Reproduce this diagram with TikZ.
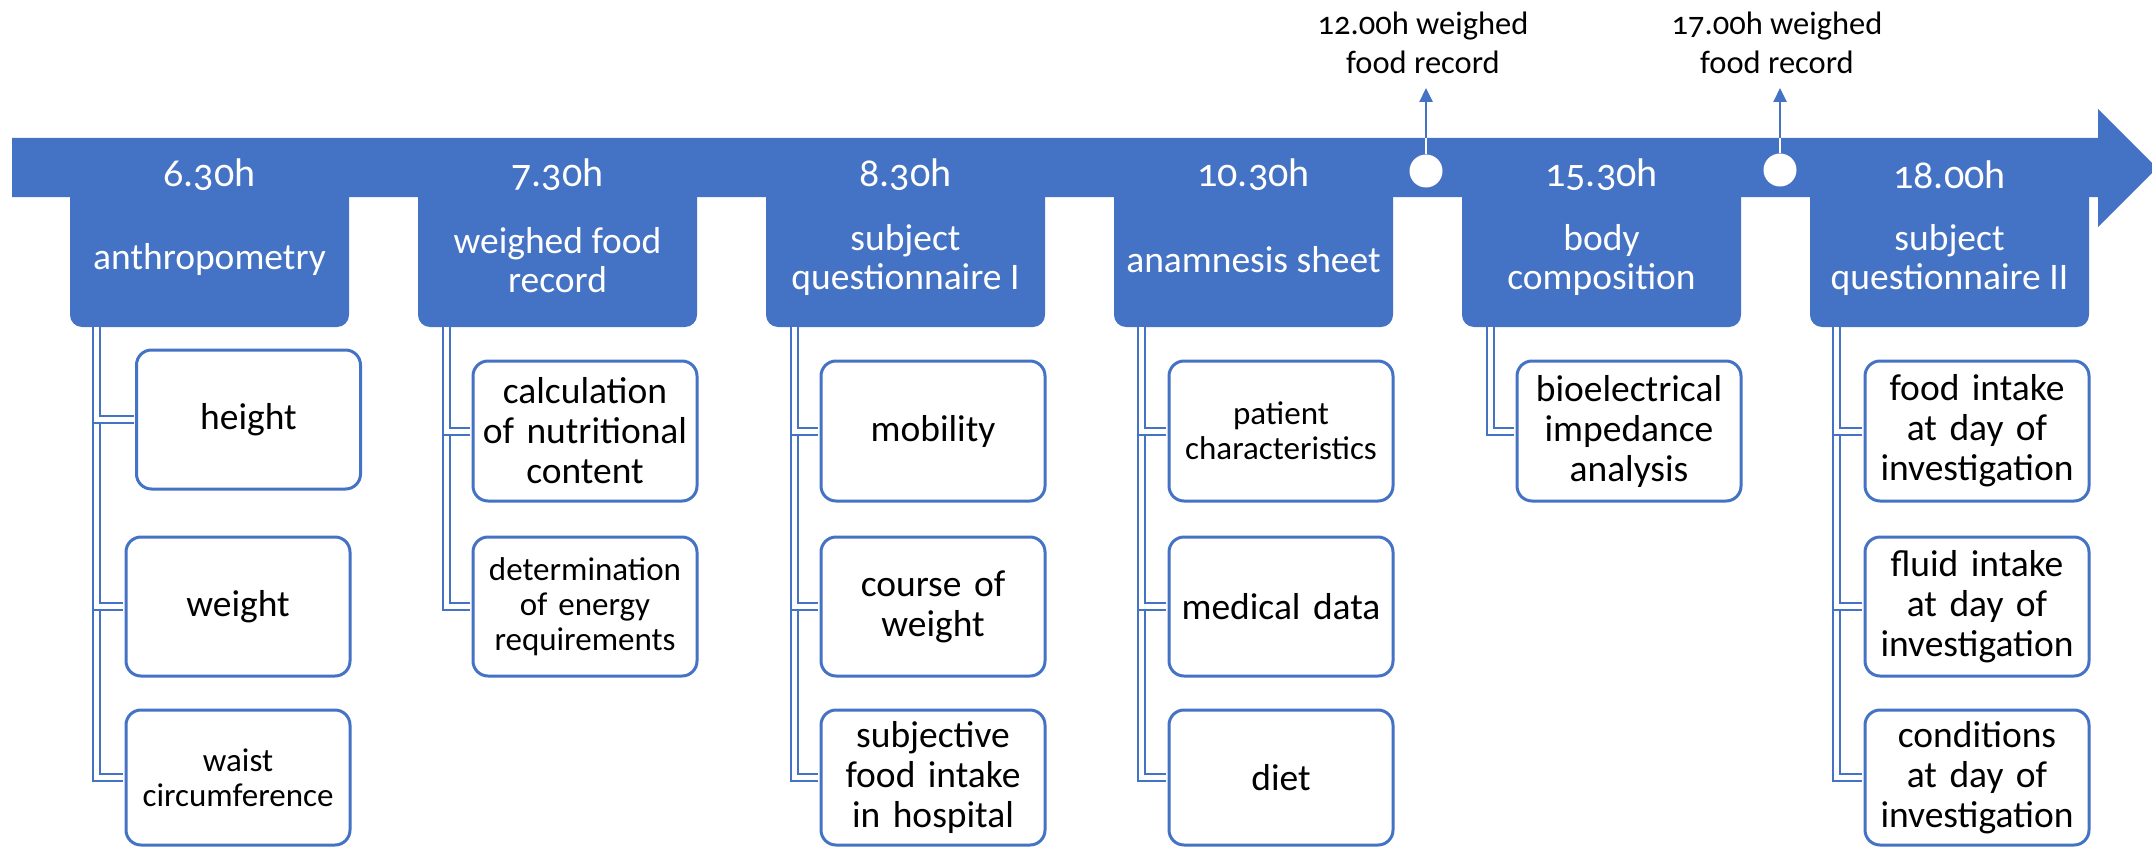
\documentclass[tikz,border=0pt]{standalone}
\usepackage{fontspec}
\setmainfont{Carlito}[Numbers=OldStyle]
\usetikzlibrary{positioning, arrows.meta}
\definecolor{office}{HTML}{4472C4}

\begin{document}
\begin{tikzpicture}[x=1pt, y=-1pt,
			headbox/.style={fill=office, rounded corners=12pt, minimum width=279pt, minimum height=177pt, inner sep=0pt},
			timelbl/.style={text=white, font=\fontsize{40}{44}\selectfont},
			headtxt/.style={text=white, align=center, font=\fontsize{37.5}{39}\selectfont},
			subbox/.style={draw=office, line width=3pt, fill=white, rounded corners=15pt, minimum width=224pt, minimum height=139pt, inner sep=0pt, text width=214pt, align=center, font=\fontsize{37.5}{40}\selectfont},
			smalltxt/.style={font=\fontsize{33}{35}\selectfont},
			branch/.style={draw=office, line width=2pt, double=white, double distance=5pt, shorten >=1.5pt},
			dot/.style={circle, fill=white, minimum size=33pt, inner sep=0pt},
			note/.style={align=center, font=\fontsize{32.5}{39}\selectfont}]
			
			\useasboundingbox (0,0) rectangle (2152,848);
			
			% timeline bar
			\fill[office] (12,138) -- (2098,138) -- (2098,109) -- (2157,168) -- (2098,227) -- (2098,197) -- (12,197) -- cycle;
			\coordinate (bar) at (0,138);
			
			% stations
			\foreach \t/\n [count=\i] in {6.30h/anthropometry, 7.30h/{weighed food\\record}, 8.30h/{subject\\questionnaire I}, 10.30h/anamnesis sheet, 15.30h/{body\\composition}, 18.00h/{subject\\questionnaire II}} {
				\node[headbox] (h\i) at ({209.5+348*(\i-1)}, 238.5) {};
				\node[timelbl] (t\i) at ([yshift=-25pt]h\i.north) {\t};
				\node[headtxt] (n\i) at ([yshift=-110pt]h\i.north) {\n};
			}
			
			% intermediate records
			\node[dot] (d1) at (1426,171) {};
			\node[dot] (d2) at (1780,170) {};
			\node[note] (r1) at (1423,42.5) {12.00h weighed\\food record};
			\node[note] (r2) at (1777,42.5) {17.00h weighed\\food record};
			\draw[white, line width=2.5pt] (d1.north) -- (d1 |- bar);
			\draw[white, line width=2.5pt] (d2.north) -- (d2 |- bar);
			\draw[office, line width=2.5pt, -{Triangle[width=13pt, length=14pt]}] (d1 |- bar) -- (d1 |- 0,88);
			\draw[office, line width=2.5pt, -{Triangle[width=13pt, length=14pt]}] (d2 |- bar) -- (d2 |- 0,88);
			
			% details
			\node[subbox] (c11) at (248.5,419.5) {height};
			\node[subbox] (c12) at (238,606.5) {weight};
			\node[subbox, smalltxt, minimum height=135pt] (c13) at (238,777.5) {waist\\circumference};
			
			\node[subbox, minimum height=140pt] (c21) at (585,431) {calculation\\of nutritional\\content};
			\node[subbox, smalltxt] (c22) at (585,606.5) {determination\\of energy\\requirements};
			
			\node[subbox, minimum height=140pt] (c31) at (933,431) {mobility};
			\node[subbox] (c32) at (933,606.5) {course of\\weight};
			\node[subbox, minimum height=135pt] (c33) at (933,777.5) {subjective\\food intake\\in hospital};
			
			\node[subbox, smalltxt, minimum height=140pt] (c41) at (1281,431) {patient\\characteristics};
			\node[subbox] (c42) at (1281,606.5) {medical data};
			\node[subbox, minimum height=135pt] (c43) at (1281,777.5) {diet};
			
			\node[subbox, minimum height=140pt] (c51) at (1629,431) {bioelectrical\\impedance\\analysis};
			
			\node[subbox, minimum height=140pt] (c61) at (1977,431) {food intake\\at day of\\investigation};
			\node[subbox] (c62) at (1977,606.5) {fluid intake\\at day of\\investigation};
			\node[subbox, minimum height=135pt] (c63) at (1977,777.5) {conditions\\at day of\\investigation};
			
			% connectors
			\draw[branch] ([xshift=27pt]h1.south west) |- (c13.west);
			\draw[branch] ([xshift=27pt]h1.south west) |- (c12.west);
			\draw[branch] ([xshift=27pt]h1.south west) |- (c11.west);
			\draw[branch] ([xshift=29pt]h2.south west) |- (c22.west);
			\draw[branch] ([xshift=29pt]h2.south west) |- (c21.west);
			\draw[branch] ([xshift=29pt]h3.south west) |- (c33.west);
			\draw[branch] ([xshift=29pt]h3.south west) |- (c32.west);
			\draw[branch] ([xshift=29pt]h3.south west) |- (c31.west);
			\draw[branch] ([xshift=28pt]h4.south west) |- (c43.west);
			\draw[branch] ([xshift=28pt]h4.south west) |- (c42.west);
			\draw[branch] ([xshift=28pt]h4.south west) |- (c41.west);
			\draw[branch] ([xshift=29pt]h5.south west) |- (c51.west);
			\draw[branch] ([xshift=27pt]h6.south west) |- (c63.west);
			\draw[branch] ([xshift=27pt]h6.south west) |- (c62.west);
			\draw[branch] ([xshift=27pt]h6.south west) |- (c61.west);
		\end{tikzpicture}
\end{document}
